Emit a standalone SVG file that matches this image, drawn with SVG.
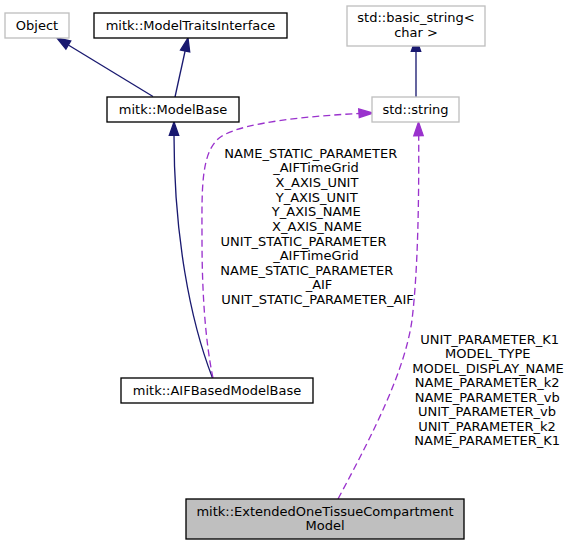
<svg xmlns="http://www.w3.org/2000/svg" width="571" height="545" viewBox="0 0 571 545">
<defs>
<style>
text{font-family:"DejaVu Sans","Liberation Sans",sans-serif;font-size:13px;fill:#000;text-anchor:middle}
.n{fill:#fff;stroke:#000;stroke-width:1.33}
.g{fill:#fff;stroke:#bfbfbf;stroke-width:1.33}
.c{fill:#bfbfbf;stroke:#000;stroke-width:1.33}
.e{fill:none;stroke:#191970;stroke-width:1.33}
.d{fill:none;stroke:#9a32cd;stroke-width:1.33;stroke-dasharray:7,4}
.ah{fill:#191970;stroke:#191970;stroke-width:1.33}
.ap{fill:#9a32cd;stroke:#9a32cd;stroke-width:1.33}
</style>
</defs>
<g id="connectors">
<path class="e" d="M153,96.5 L68.3,45"/>
<polygon class="ah" points="57,38 70.7,41 65.9,49"/>
<path class="e" d="M175,97 L185.1,51"/>
<polygon class="ah" points="188,38 189.7,52 180.5,50"/>
<path class="e" d="M416,97 L416,51"/>
<polygon class="ah" points="416,38 420.7,51.3 411.3,51.3"/>
<path class="e" d="M212.5,378 C190,320 174,235 174,135"/>
<polygon class="ah" points="174,122 178.7,135.3 169.3,135.3"/>
<path class="d" d="M213,378 C205,340 202,290 202,240 C202,190 200,150 222,136 C245,122 310,116 359,113.5"/>
<polygon class="ap" points="373,113 359.3,117.5 358.7,108.9"/>
<path class="d" d="M338,499 C375,430 405,370 412,320 C418,270 419,200 418.7,136"/>
<polygon class="ap" points="418.5,122 423.2,135.5 413.8,135.7"/>
<text x="310.8" y="157.7">NAME_STATIC_PARAMETER</text>
<text x="316" y="172.3">_AIFTimeGrid</text>
<text x="317" y="187">X_AXIS_UNIT</text>
<text x="316.7" y="201.6">Y_AXIS_UNIT</text>
<text x="316.3" y="216.2">Y_AXIS_NAME</text>
<text x="317" y="230.9">X_AXIS_NAME</text>
<text x="303.5" y="245.5">UNIT_STATIC_PARAMETER</text>
<text x="316" y="260.1">_AIFTimeGrid</text>
<text x="306.8" y="274.8">NAME_STATIC_PARAMETER</text>
<text x="319" y="289.4">_AIF</text>
<text x="317.5" y="304">UNIT_STATIC_PARAMETER_AIF</text>
<text x="489.7" y="343.8">UNIT_PARAMETER_K1</text>
<text x="487.8" y="358.3">MODEL_TYPE</text>
<text x="488" y="372.8">MODEL_DISPLAY_NAME</text>
<text x="487.2" y="387.2">NAME_PARAMETER_k2</text>
<text x="487.2" y="401.7">NAME_PARAMETER_vb</text>
<text x="487" y="416.2">UNIT_PARAMETER_vb</text>
<text x="487" y="430.7">UNIT_PARAMETER_k2</text>
<text x="487.2" y="445.2">NAME_PARAMETER_K1</text>
</g>
<g id="node-object">
<rect class="g" x="5" y="13" width="64" height="25"/>
<text x="37" y="30">Object</text>
</g>
<g id="node-modeltraitsinterface">
<rect class="n" x="94" y="13" width="193" height="25"/>
<text x="190.5" y="30">mitk::ModelTraitsInterface</text>
</g>
<g id="node-modelbase">
<rect class="n" x="107" y="97" width="132" height="25"/>
<text x="173" y="114">mitk::ModelBase</text>
</g>
<g id="node-basic-string">
<rect class="g" x="347" y="6" width="138" height="40"/>
<text x="416" y="22">std::basic_string&lt;</text>
<text x="416" y="36.7">char &gt;</text>
</g>
<g id="node-string">
<rect class="g" x="372" y="97" width="87" height="25"/>
<text x="415.5" y="114">std::string</text>
</g>
<g id="node-aifbasedmodelbase">
<rect class="n" x="121" y="378" width="192" height="25"/>
<text x="217" y="394.5">mitk::AIFBasedModelBase</text>
</g>
<g id="node-extended">
<rect class="c" x="186" y="499" width="278" height="40"/>
<text x="325" y="515.5">mitk::ExtendedOneTissueCompartment</text>
<text x="325" y="530">Model</text>
</g>
</svg>
